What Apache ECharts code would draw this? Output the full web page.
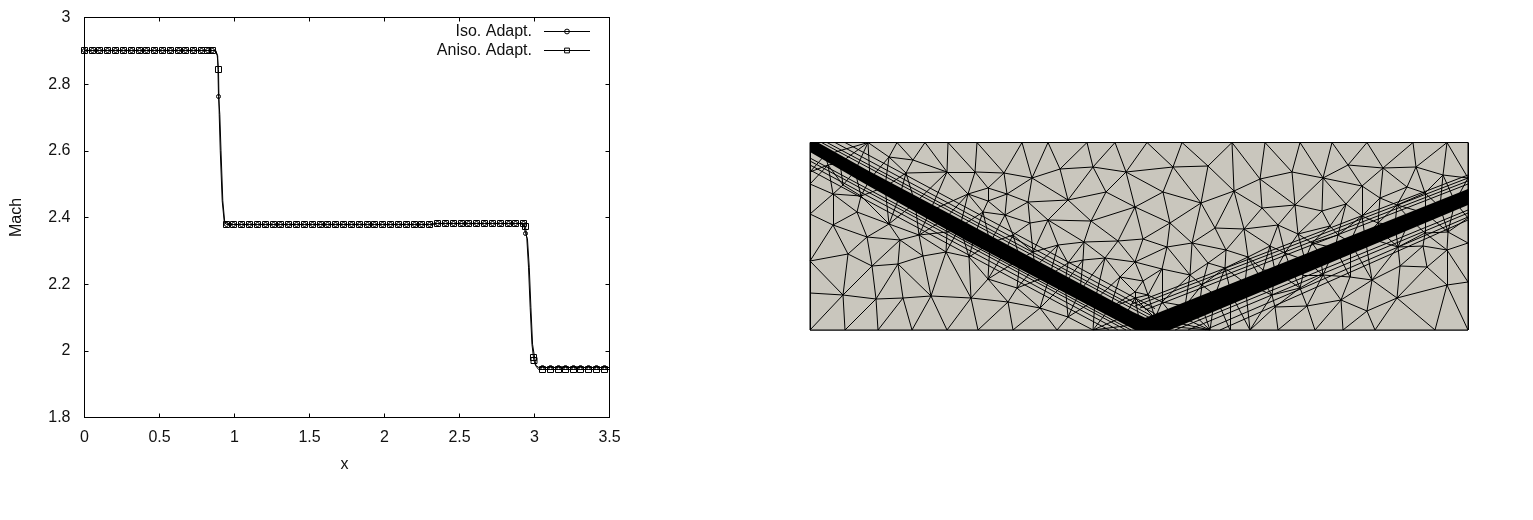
<!DOCTYPE html>
<html><head><meta charset="utf-8">
<style>html,body{margin:0;padding:0;background:#fff}#c{width:1533px;height:520px}</style>
<script src="https://cdn.jsdelivr.net/npm/echarts@6/dist/echarts.min.js"></script>
</head><body><div id="c"></div>
<script>
// ---- Mach curves
const xTickInterval = 0.5, yTickInterval = 0.2;
const isoName = 'Iso. Adapt.', anisoName = 'Aniso. Adapt.';
const isoMarkX = [0,0.0533,0.1,0.1533,0.2067,0.26,0.3133,0.3667,0.4133,0.4667,0.52,0.5733,0.6267,0.6733,0.7267,0.78,0.82,0.8533,0.8933,
 0.9467,0.9933,1.0467,1.1,1.1533,1.2067,1.26,1.3067,1.36,1.4133,1.4667,1.52,1.5733,1.62,1.6733,1.7267,1.78,1.8333,1.8867,1.9333,1.9867,2.04,2.0933,2.1467,2.2,2.2467,2.3,2.3533,2.4067,2.46,2.5133,2.56,2.6133,2.6667,2.72,2.7733,2.8267,2.8733,2.9267,
 2.94,3.0533,3.1067,3.16,3.2067,3.26,3.3067,3.36,3.4133,3.4667];
const isoMarkY = [2.901,2.901,2.901,2.901,2.901,2.901,2.901,2.901,2.901,2.901,2.901,2.901,2.901,2.901,2.901,2.901,2.901,2.901,2.763,
 2.379,2.379,2.379,2.379,2.379,2.379,2.379,2.379,2.379,2.379,2.379,2.379,2.379,2.379,2.379,2.379,2.379,2.379,2.379,2.379,2.379,2.379,2.379,2.379,2.379,2.379,2.379,2.382,2.382,2.382,2.382,2.382,2.382,2.382,2.382,2.382,2.382,2.382,2.382,
 2.352,1.95,1.95,1.95,1.95,1.95,1.95,1.95,1.95,1.95];
const isoShockX = [0.875,0.888,0.902,0.91,0.922,0.935,2.93,2.953,2.965,2.976,2.987,3.009,3.029,3.5];
const isoShockY = [2.901,2.885,2.71,2.6,2.45,2.385,2.376,2.336,2.251,2.131,2.02,1.956,1.95,1.95];
const anisoMarkX = [0,0.0533,0.1,0.1533,0.2067,0.26,0.3133,0.3667,0.4133,0.4667,0.52,0.5733,0.6267,0.6733,0.7267,0.78,0.82,0.8533,0.8933,
 0.9467,0.9933,1.0467,1.1,1.1533,1.2067,1.26,1.3067,1.36,1.4133,1.4667,1.52,1.5733,1.62,1.6733,1.7267,1.78,1.8333,1.8867,1.9333,1.9867,2.04,2.0933,2.1467,2.2,2.2467,2.3,2.3533,2.4067,2.46,2.5133,2.56,2.6133,2.6667,2.72,2.7733,2.8267,2.8733,2.9267,
 2.94,2.9933,2.9967,3.0533,3.1067,3.16,3.2067,3.26,3.3067,3.36,3.4133,3.4667];
const anisoMarkY = [2.901,2.901,2.901,2.901,2.901,2.901,2.901,2.901,2.901,2.901,2.901,2.901,2.901,2.901,2.901,2.901,2.901,2.901,2.844,
 2.379,2.379,2.379,2.379,2.379,2.379,2.379,2.379,2.379,2.379,2.379,2.379,2.379,2.379,2.379,2.379,2.379,2.379,2.379,2.379,2.379,2.379,2.379,2.379,2.379,2.379,2.379,2.382,2.382,2.382,2.382,2.382,2.382,2.382,2.382,2.382,2.382,2.382,2.382,
 2.373,1.98,1.971,1.944,1.944,1.944,1.944,1.944,1.944,1.944,1.944,1.944];
const anisoShockX = [0.873,0.885,0.898,0.905,0.918,0.932,2.927,2.949,2.96,2.971,2.983,3.007,3.027,3.5];
const anisoShockY = [2.901,2.885,2.71,2.6,2.45,2.385,2.376,2.336,2.251,2.131,2.02,1.956,1.944,1.944];

// ---- Mesh nodes (x along the domain, y up from its floor)
const meshWidth = 658, meshHeight = 187.5;
const meshBoundaryNodes = [[0,0],[658,0],[0,187.5],[658,187.5],
 [58,187.5],[87,187.5],[115,187.5],[138,187.5],[167,187.5],[212,187.5],[238,187.5],[277,187.5],[305,187.5],[337,187.5],[372,187.5],[422,187.5],[455,187.5],[490,187.5],[522,187.5],[557,187.5],[603,187.5],[637,187.5],
 [35,0],[68,0],[102,0],[137,0],[168,0],[203,0],[247,0],[283,0],[400,0],[420,0],[440,0],[468,0],[505,0],[533,0],[565,0],[625,0],
 [0,158],[0,146],[0,116],[0,69],[0,37],[658,152],[658,112],[658,87],[658,48]];
const meshLowerLeftNodes = [[23,136],[51,134],[47,118],[23,105],[57,93],[79,106],[90,90],[109,95],[38,76],[62,64],[88,66],[113,74],[136,78],[33,35],[66,31],[93,32],[121,34],[161,32],[159,73],[178,51],[198,28],[230,22],[258,13],[207,42],[33,145],[18,165],[137,98]];
const meshUpperNodes = [[79,173],[103,170],[96,157],[137,158],[165,158],[194,157],[222,152],[250,161],[283,163],[316,158],[258,130],[296,138],[325,123],[218,128],[197,136],[178,142],[158,136],[178,129],[173,118],[195,115],[238,110],[281,109],[220,107],[248,85],[274,88],[308,89],[273,70],[258,67],[295,72],[325,68],[203,95],[223,78],[310,53],[325,38],
 [363,163],[398,164],[450,151],[482,158],[513,152],[538,165],[573,162],[606,163],[633,155],[353,138],[391,127],[424,139],[452,122],[485,125],[512,119],[536,126],[552,144],[570,132],[597,143],[615,137],[360,107],[405,102],[434,101],[468,105],[488,96],[520,104],[552,114],[568,107],[587,125],[333,91],[357,83],[382,87],[416,80],[438,73],[460,84],[475,77],[502,87],[528,95],[352,61],[380,55],[398,67],[415,62],[453,60],[333,49],[338,35],[325,32],[352,28],[392,45],[420,38]];
const meshLowerRightNodes = [[490,42],[462,35],[465,23],[497,24],[531,30],[557,19],[587,32],[562,50],[540,53],[513,55],[493,55],[590,64],[617,63],[588,83],[613,84],[638,98],[615,97],[637,80],[637,45]];
const meshShockNodes = [[15,175],[30,167],[45,159],[60,151],[75,143],[90,135],[105,127],[120,119],[135,111],[150,103],[165,95],[180,87],[195,79],[210,71],[225,63],[240,55],[255,47],[270,39],[285,30],[300,22],[315,14],[330,6],
 [345,12],[360,18],[375,24],[390,29],[405,35],[420,41],[435,47],[450,53],[465,59],[480,64],[495,70],[510,76],[525,82],[540,88],[555,93],[570,99],[585,105],[600,111],[615,117],[630,123],[645,128]];
// outlines of the dense shock bands, and the long stretched cells that flank them
const shockBandLeft = [[0,178],[0,187.5],[8,187.5],[57,160],[157,107],[323,18],[340,10],[345,0],[325,0],[157,89],[57,145]];
const shockBandRight = [[325,0],[335,12],[658,141],[658,125],[360,0]];
const shockBands = [shockBandLeft, shockBandRight];
const stretchedEdges = [
 [[11.5,187.5],[340,12]],[[17,187.5],[345,12.4]],[[25,187.5],[345,16.4]],[[35,187.5],[345,21.4]],
 [[0,172],[321,0]],[[0,169],[316,0]],[[0,165],[308,0]],[[0,160],[299,0]],
 [[335,20],[658,146]],[[330,22],[658,149]],[[325,24],[658,152]],[[322,26],[658,155]],
 [[365,0],[658,120]],[[378,0],[658,117]],[[395,0],[658,113]],[[410,0],[658,110]]];
const meshColor = '#c9c6bd';

// connectivity of the nodes (Bowyer-Watson)
function triangulate(pts){
  const P = pts.concat([[-5000,-5000],[7000,-5000],[300,9000]]), n = pts.length;
  let tris = [[n,n+1,n+2]];
  const inCirc = (t,p)=>{
    const [a,b,c]=t.map(i=>P[i]);
    const ax=a[0]-p[0],ay=a[1]-p[1],bx=b[0]-p[0],by=b[1]-p[1],cx=c[0]-p[0],cy=c[1]-p[1];
    const d=(ax*ax+ay*ay)*(bx*cy-cx*by)-(bx*bx+by*by)*(ax*cy-cx*ay)+(cx*cx+cy*cy)*(ax*by-bx*ay);
    const o=(b[0]-a[0])*(c[1]-a[1])-(b[1]-a[1])*(c[0]-a[0]);
    return o>0? d>0 : d<0;
  };
  for(let i=0;i<n;i++){
    const bad=[],good=[];
    tris.forEach(t=>(inCirc(t,P[i])?bad:good).push(t));
    const cnt=new Map();
    bad.forEach(t=>[[t[0],t[1]],[t[1],t[2]],[t[2],t[0]]].forEach(e=>{
      const k=Math.min(e[0],e[1])+'_'+Math.max(e[0],e[1]);cnt.set(k,(cnt.get(k)||0)+1);}));
    tris=good;
    cnt.forEach((v,k)=>{if(v===1){const [a,b]=k.split('_').map(Number);tris.push([a,b,i]);}});
  }
  const edges=new Set();
  tris.forEach(t=>{ if(t.every(i=>i<n)) [[t[0],t[1]],[t[1],t[2]],[t[2],t[0]]].forEach(e=>edges.add(Math.min(e[0],e[1])+'_'+Math.max(e[0],e[1])));});
  return [...edges].map(k=>{const [a,b]=k.split('_').map(Number);return {coords:[pts[a],pts[b]]};});
}
const meshNodes = meshBoundaryNodes.concat(meshLowerLeftNodes,meshUpperNodes,meshLowerRightNodes,meshShockNodes);
const meshEdges = triangulate(meshNodes).concat(stretchedEdges.map(c=>({coords:c})));

function curve(mx,my,sx,sy,symbol){
  const pts = mx.map((x,i)=>({value:[x,my[i]],symbol})).concat(sx.map((x,i)=>({value:[x,sy[i]],symbol:'none'})));
  return pts.sort((a,b)=>a.value[0]-b.value[0]);
}
const font = 'Liberation Sans';
const ink = '#000';
const labelColor = '#111';
function valueAxis(extra){
  return Object.assign({type:'value',gridIndex:0,
    axisLine:{show:true,onZero:false,lineStyle:{color:ink,width:1}},
    axisTick:{show:true,inside:true,length:4,lineStyle:{color:ink,width:1}},
    splitLine:{show:false},minorTick:{show:false},
    axisLabel:{show:true,fontFamily:font,fontSize:16,color:labelColor},
    nameTextStyle:{fontFamily:font,fontSize:16,color:labelColor}},extra);
}
const lineSeries = (name,data,symbol,symbolSize)=>({
  type:'line',name,data,xAxisIndex:0,yAxisIndex:0,symbol,symbolSize,
  showSymbol:true,showAllSymbol:true,clip:false,
  lineStyle:{color:ink,width:1},itemStyle:{color:'transparent',borderColor:ink,borderWidth:1}
});
const chart = echarts.init(document.getElementById('c'),null,{renderer:'canvas'});
chart.setOption({
  animation:false,backgroundColor:'#fff',
  grid:[
    {left:84.5,top:17.5,width:525,height:400,containLabel:false},
    {left:810,top:142.5,width:meshWidth,height:meshHeight,show:true,backgroundColor:meshColor,borderColor:ink,borderWidth:1}
  ],
  xAxis:[
    valueAxis({position:'bottom',min:0,max:3.5,interval:xTickInterval,name:'x',nameLocation:'middle',nameGap:39,
      nameTextStyle:{fontFamily:font,fontSize:16,color:labelColor,padding:[0,5,0,0]},
      axisLabel:{show:true,fontFamily:font,fontSize:16,color:labelColor,margin:12,formatter:v=>String(v)}}),
    valueAxis({position:'top',min:0,max:3.5,interval:xTickInterval,axisLabel:{show:false}}),
    {type:'value',gridIndex:1,min:0,max:meshWidth,show:false}
  ],
  yAxis:[
    valueAxis({position:'left',min:1.8,max:3,interval:yTickInterval,name:'Mach',nameLocation:'middle',nameGap:60,
      axisLabel:{show:true,fontFamily:font,fontSize:16,color:labelColor,margin:14,padding:[2,0,0,0],formatter:v=>String(+v.toFixed(1))}}),
    valueAxis({position:'right',min:1.8,max:3,interval:yTickInterval,axisLabel:{show:false}}),
    {type:'value',gridIndex:1,min:0,max:meshHeight,show:false}
  ],
  legend:{show:true,orient:'vertical',align:'right',right:937.5,top:18.5,itemWidth:46,itemHeight:6,itemGap:3,
    selectedMode:false,data:[isoName,anisoName],
    lineStyle:{width:1,color:ink},itemStyle:{borderWidth:1,borderColor:ink,color:'transparent'},
    textStyle:{fontFamily:font,fontSize:16,color:labelColor,padding:[0,7,0,0]}},
  series:[
    lineSeries(isoName,curve(isoMarkX,isoMarkY,isoShockX,isoShockY,'circle'),'circle',4),
    lineSeries(anisoName,curve(anisoMarkX,anisoMarkY,anisoShockX,anisoShockY,'rect'),'rect',6),
    {type:'lines',coordinateSystem:'cartesian2d',xAxisIndex:2,yAxisIndex:2,silent:true,
      lineStyle:{color:ink,width:1,opacity:1},data:meshEdges,z:3},
    {type:'custom',coordinateSystem:'cartesian2d',xAxisIndex:2,yAxisIndex:2,silent:true,z:4,
      data:shockBands.map((b,i)=>[i]),
      renderItem:(params,api)=>({type:'polygon',
        shape:{points:shockBands[params.dataIndex].map(p=>api.coord(p))},style:{fill:ink}})}
  ]
});
</script></body></html>
